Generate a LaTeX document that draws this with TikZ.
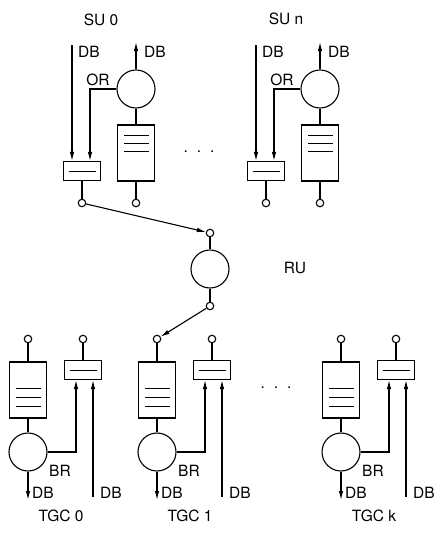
\documentclass[tikz,border=0pt]{standalone}
\usepackage{fontspec}
\setmainfont{TeX Gyre Heros}
\usetikzlibrary{arrows.meta}

\tikzset{
  proc/.style={draw, circle, minimum size=38pt, inner sep=0pt},
  port/.style={draw, circle, minimum size=7.5pt, inner sep=0pt, fill=white},
  reg/.style={draw, minimum width=37pt, minimum height=19pt, inner sep=0pt,
    path picture={\draw[line width=0.8pt] ([xshift=5pt]path picture bounding box.west)
      -- ([xshift=-5pt]path picture bounding box.east);}},
  queue/.style={draw, minimum width=37pt, minimum height=56pt, inner sep=0pt},
  qtop/.style={queue, path picture={\foreach \d in {10,18,26}
    \draw[line width=0.8pt] ([shift={(6pt,-\d pt)}]path picture bounding box.north west)
      -- ([shift={(-6pt,-\d pt)}]path picture bounding box.north east);}},
  qbot/.style={queue, path picture={\foreach \d in {12,21,30}
    \draw[line width=0.8pt] ([shift={(6pt,\d pt)}]path picture bounding box.south west)
      -- ([shift={(-6pt,\d pt)}]path picture bounding box.south east);}},
  flow/.style={-{Latex[length=9pt,width=4.5pt]}},
  lbl/.style={inner sep=0pt},
}

\begin{document}
\begin{tikzpicture}[x=1pt, y=-1pt, line width=1.1pt, font=\fontsize{15.5}{18}\selectfont]
\useasboundingbox (0,0) rectangle (437,533);

% SU 0
\node[lbl] (su0) at (101,20) {SU 0};
\node[proc] (s0c) at (136,89) {};
\node[qtop] (s0q) at (136,153) {};
\node[reg] (s0r) at (82,171) {};
\node[port] (s0p) at (82,203) {};
\node[port] (s0o) at (136,203) {};
\coordinate (s0in) at (72,45);
\coordinate (s0out) at (136,42);
\draw[flow] (s0in) -- (s0in |- s0r.north);
\draw[flow] (s0c) -- (s0out);
\draw[flow] (s0c.west) -| ([xshift=8pt]s0r.north);
\draw (s0c) -- (s0q) -- (s0o) (s0r) -- (s0p);
\node[lbl] (s0dbi) at (89,52) {DB};
\node[lbl] (s0dbo) at (155,52) {DB};
\node[lbl] (s0or) at (98,80) {OR};

% SU n
\node[lbl] (sun) at (286,19) {SU n};
\node[proc] (s1c) at (320,89) {};
\node[qtop] (s1q) at (320,153) {};
\node[reg] (s1r) at (266,171) {};
\node[port] (s1p) at (266,203) {};
\node[port] (s1o) at (320,203) {};
\coordinate (s1in) at (256,45);
\coordinate (s1out) at (320,42);
\draw[flow] (s1in) -- (s1in |- s1r.north);
\draw[flow] (s1c) -- (s1out);
\draw[flow] (s1c.west) -| ([xshift=8pt]s1r.north);
\draw (s1c) -- (s1q) -- (s1o) (s1r) -- (s1p);
\node[lbl] (s1dbi) at (273,52) {DB};
\node[lbl] (s1dbo) at (339,52) {DB};
\node[lbl] (s1or) at (282,80) {OR};

\node[lbl] (sdots) at (199,152) {.\hspace{9pt}.\hspace{9pt}.};

% RU
\node[port] (r0i) at (210,233) {};
\node[proc] (ru) at (210,269) {};
\node[port] (r0o) at (210,306) {};
\node[lbl] (rul) at (295,268) {RU};
\draw (r0i) -- (ru) -- (r0o);

% TGC 0
\node[port] (t0i) at (28,339) {};
\node[qbot] (t0q) at (28,390) {};
\node[proc] (t0c) at (28,452) {};
\node[reg] (t0r) at (83,370) {};
\node[port] (t0p) at (83,339) {};
\coordinate (t0out) at (28,500);
\coordinate (t0in) at (93,497);
\draw (t0i) -- (t0q) -- (t0c) (t0p) -- (t0r);
\draw[flow] (t0c) -- (t0out);
\draw[flow] (t0c.east) -| ([xshift=-7pt]t0r.south);
\draw[flow] (t0in) -- (t0in |- t0r.south);
\node[lbl] (t0br) at (60,471) {BR};
\node[lbl] (t0dbo) at (43,493) {DB};
\node[lbl] (t0dbi) at (111,493) {DB};
\node[lbl] (tgc0) at (61,516) {TGC 0};

% TGC 1
\node[port] (t1i) at (157,339) {};
\node[qbot] (t1q) at (157,390) {};
\node[proc] (t1c) at (157,452) {};
\node[reg] (t1r) at (212,370) {};
\node[port] (t1p) at (212,339) {};
\coordinate (t1out) at (157,500);
\coordinate (t1in) at (222,497);
\draw (t1i) -- (t1q) -- (t1c) (t1p) -- (t1r);
\draw[flow] (t1c) -- (t1out);
\draw[flow] (t1c.east) -| ([xshift=-7pt]t1r.south);
\draw[flow] (t1in) -- (t1in |- t1r.south);
\node[lbl] (t1br) at (189,471) {BR};
\node[lbl] (t1dbo) at (172,493) {DB};
\node[lbl] (t1dbi) at (240,493) {DB};
\node[lbl] (tgc1) at (190,516) {TGC 1};

\node[lbl] (tdots) at (276,388) {.\hspace{9pt}.\hspace{9pt}.};

% TGC k
\node[port] (t2i) at (341,339) {};
\node[qbot] (t2q) at (341,390) {};
\node[proc] (t2c) at (341,452) {};
\node[reg] (t2r) at (396,370) {};
\node[port] (t2p) at (396,339) {};
\coordinate (t2out) at (341,500);
\coordinate (t2in) at (406,497);
\draw (t2i) -- (t2q) -- (t2c) (t2p) -- (t2r);
\draw[flow] (t2c) -- (t2out);
\draw[flow] (t2c.east) -| ([xshift=-7pt]t2r.south);
\draw[flow] (t2in) -- (t2in |- t2r.south);
\node[lbl] (t2br) at (373,471) {BR};
\node[lbl] (t2dbo) at (356,493) {DB};
\node[lbl] (t2dbi) at (424,493) {DB};
\node[lbl] (tgck) at (374,516) {TGC k};

% links through RU
\draw[flow] (s0p) -- (r0i);
\draw[flow] (r0o) -- (t1i);
\end{tikzpicture}
\end{document}
